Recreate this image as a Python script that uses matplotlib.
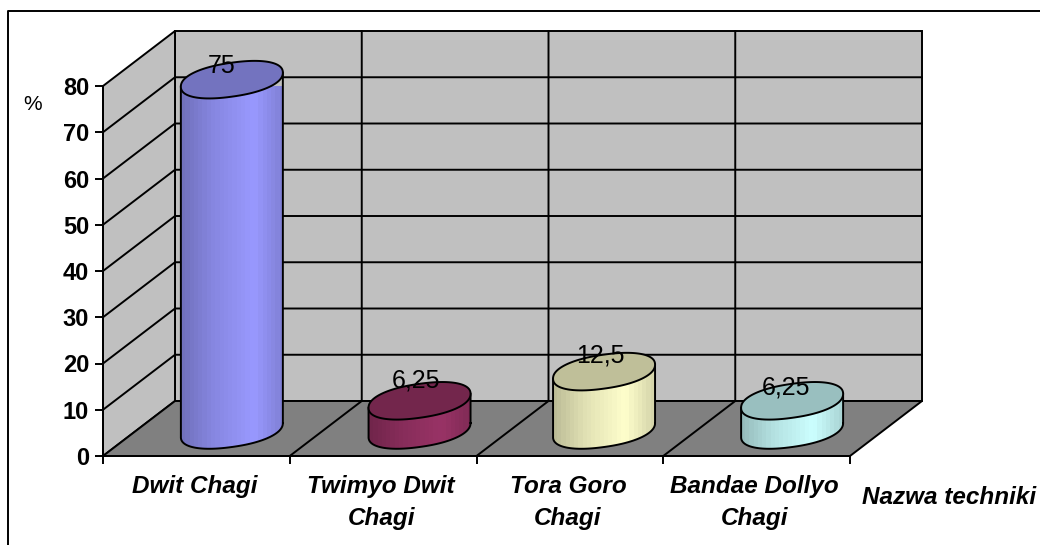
import matplotlib
matplotlib.use("Agg")
import matplotlib.pyplot as plt
import numpy as np
from matplotlib.lines import Line2D
from matplotlib.patches import Polygon

categories = ["Dwit Chagi", "Twimyo Dwit\nChagi", "Tora Goro\nChagi", "Bandae Dollyo\nChagi"]
values = [75, 6.25, 12.5, 6.25]
value_labels = ["75", "6,25", "12,5", "6,25"]
side_colors = ["#9999ff", "#993366", "#ffffcc", "#ccffff"]
top_colors = ["#7373bf", "#73264c", "#bfbf99", "#99bfbf"]
y_ticks = [0, 10, 20, 30, 40, 50, 60, 70, 80]

# label nudges in pixels, the labels sit unevenly in the original
label_dx = [-10, -4, -4, -6]
label_dy = [14, 20, 16, 13]

plt.rcParams["font.family"] = ["Liberation Sans", "DejaVu Sans"]

W, H = 1040, 545
fig = plt.figure(figsize=(W / 100, H / 100), dpi=100)
# plot box is the front face of the 3d chart, in pixels
ax = fig.add_axes([103 / W, 1 - 456 / H, 747 / W, 370 / H])
ax.set_xlim(0, 4)
ax.set_ylim(0, 80)
ax.patch.set_visible(False)

px_x = 4 / 747
px_y = 80 / 370
dx = 72 * px_x
dy = 55 * px_y
LW = 1.4


def poly(xs, ys, fc, z):
    ax.add_patch(Polygon(np.column_stack([xs, ys]), closed=True, fc=fc, ec="black",
                         lw=LW, zorder=z, clip_on=False))


def line(xs, ys, z=2):
    ax.plot(xs, ys, color="black", lw=LW, zorder=z, clip_on=False)


# walls and floor
poly([dx, 4 + dx, 4 + dx, dx], [dy, dy, 80 + dy, 80 + dy], "#c0c0c0", 1)
poly([0, dx, dx, 0], [0, dy, 80 + dy, 80], "#c0c0c0", 1)
poly([0, 4, 4 + dx, dx], [0, 0, dy, dy], "#808080", 1)

for t in y_ticks[1:-1]:
    line([0, dx, 4 + dx], [t, t + dy, t + dy])
for i in range(1, 4):
    line([i, i + dx, i + dx], [0, dy, 80 + dy])

# cylinders
base = 26 * px_y
a = 51 * px_x
b = 17 * px_y
k = 7 * px_y
t = np.linspace(0, 2 * np.pi, 181)
c_t = np.cos(t)
s_t = np.sin(t)
# a bit squarer than an ellipse, the original caps are blunt at the ends
ux = np.sign(c_t) * np.abs(c_t) ** 0.9
uy = np.sign(s_t) * np.abs(s_t) ** 0.9
for i, (v, c, tc, lab) in enumerate(zip(values, side_colors, top_colors, value_labels)):
    cx = i + 0.69 + (0.005 if i == 1 else 0) - (0.007 if i == 2 else 0)
    top = base + v * 1.01
    ex = cx + a * ux
    ey = b * uy + k * ux
    low = s_t <= 0
    order = np.argsort(ex[low])
    sx = ex[low][order]
    sy = ey[low][order] + base
    side = Polygon(np.column_stack([np.r_[sx, cx + a, cx - a], np.r_[sy, top + k, top - k]]),
                   closed=True, fc="none", ec="none")
    ax.add_patch(side)
    rgb = np.array(matplotlib.colors.to_rgb(c))
    shade = np.interp(np.linspace(0, 1, 24), [0, 0.3, 0.72, 1], [0.74, 0.88, 1.0, 0.84])
    img = np.clip(shade[None, :, None] * rgb[None, None, :], 0, 1)
    im = ax.imshow(img, extent=[cx - a, cx + a, base - 3 * b, top + 2 * b], aspect="auto",
                   zorder=3, interpolation="nearest")
    im.set_clip_path(side)
    line(np.r_[cx - a, sx, cx + a], np.r_[top - k, sy, top + k], 4)
    poly(ex, top + ey, tc, 4)
    ax.text(cx + label_dx[i] * px_x, top + label_dy[i] * px_y, lab,
            ha="center", va="center", fontsize=18, color="black", zorder=6)

ax.set_xlim(0, 4)
ax.set_ylim(0, 80)

# real axis lines, ticks and labels
ax.set_zorder(5)
ax.spines[["top", "right"]].set_visible(False)
for s in ["left", "bottom"]:
    ax.spines[s].set_linewidth(LW)
ax.set_yticks(y_ticks)
ax.set_xticks(range(5))
ax.set_xticklabels([])
ax.set_xticks(np.arange(4) + 0.49, categories, minor=True, fontsize=17.5,
              fontweight="bold", style="italic")
ax.tick_params(axis="x", which="major", length=6, width=LW)
ax.tick_params(axis="x", which="minor", length=0, pad=14)
ax.tick_params(axis="y", length=6, width=LW, pad=4, labelsize=17)
for lb in ax.get_yticklabels():
    lb.set_fontweight("bold")
for lb in ax.get_xticklabels(minor=True):
    lb.set_linespacing(1.5)

fig.text(33 / W, 1 - 105 / H, "%", fontsize=15, ha="center", va="center")
fig.text(949 / W, 1 - 497 / H, "Nazwa techniki", fontsize=17.5, fontweight="bold",
         style="italic", ha="center", va="center")

# picture frame
fig.add_artist(Line2D([8 / W, 8 / W, 1], [0, 1 - 11 / H, 1 - 11 / H], color="black", lw=LW))

fig.savefig("out.png", dpi=100)
